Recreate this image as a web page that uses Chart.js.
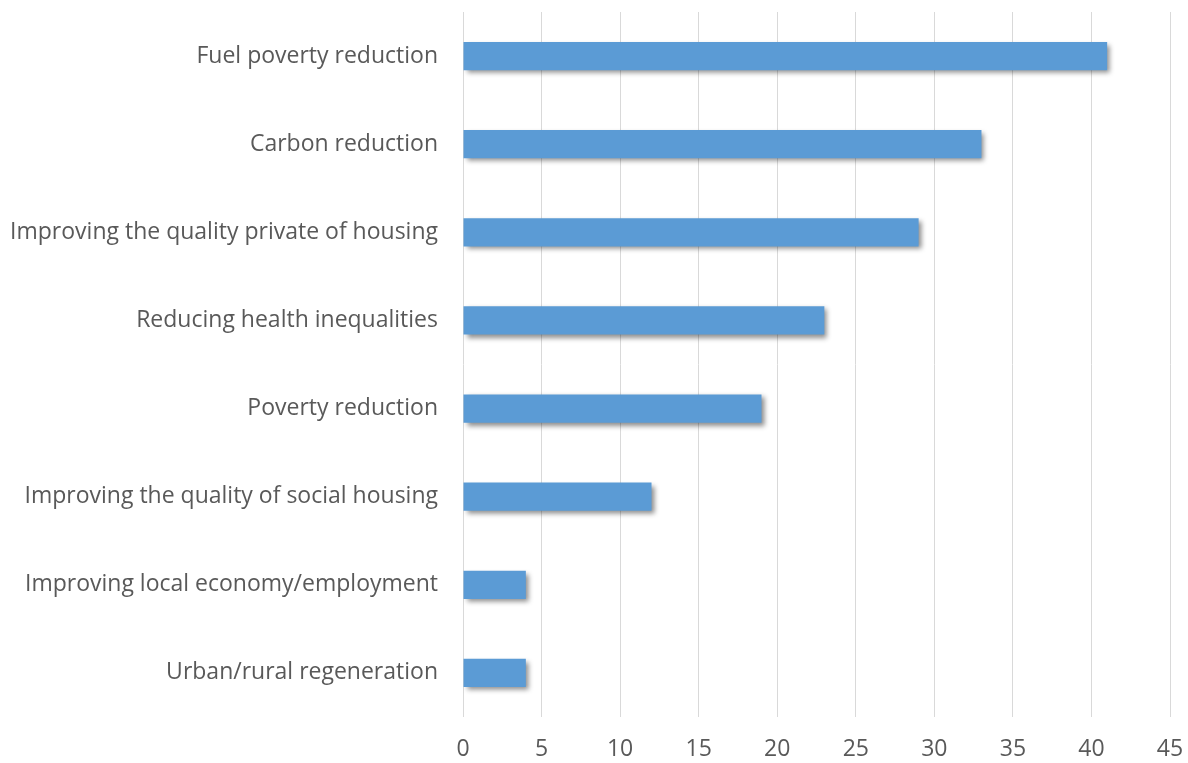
<!DOCTYPE html>
<html>
<head>
<meta charset="utf-8">
<script src="https://cdn.jsdelivr.net/npm/chart.js@4"></script>
<style>
  html, body { margin: 0; padding: 0; background: #fff; }
  #wrap { width: 1188px; height: 763px; }
</style>
</head>
<body>
<div id="wrap"><canvas id="benefitsChart" width="1188" height="763"></canvas></div>
<script>
const categories = [
  'Fuel poverty reduction',
  'Carbon reduction',
  'Improving the quality private of housing',
  'Reducing health inequalities',
  'Poverty reduction',
  'Improving the quality of social housing',
  'Improving local economy/employment',
  'Urban/rural regeneration'
];
const responses = [41, 33, 29, 23, 19, 12, 4, 4];
const xTicks = [0, 5, 10, 15, 20, 25, 30, 35, 40, 45];

// soft drop shadow under the bars, like the office chart
const barShadow = {
  id: 'barShadow',
  beforeDatasetsDraw(chart) {
    const c = chart.ctx;
    c.save();
    c.shadowColor = 'rgba(0,0,0,0.45)';
    c.shadowBlur = 5;
    c.shadowOffsetX = 3;
    c.shadowOffsetY = 3;
  },
  afterDatasetsDraw(chart) {
    chart.ctx.restore();
  }
};

const ctx = document.getElementById('benefitsChart').getContext('2d');

const benefitsChart = new Chart(ctx, {
  type: 'bar',
  data: {
    labels: categories,
    datasets: [{
      data: responses,
      backgroundColor: '#5b9bd5',
      borderWidth: 0,
      barPercentage: 0.64,
      categoryPercentage: 0.5
    }]
  },
  options: {
    indexAxis: 'y',
    responsive: false,
    animation: false,
    layout: { padding: { top: 12, right: 18, left: 0, bottom: 0 } },
    plugins: {
      legend: { display: false },
      tooltip: { enabled: false }
    },
    scales: {
      x: {
        min: 0,
        max: 45,
        afterBuildTicks(scale) {
          scale.ticks = xTicks.map(v => ({ value: v }));
        },
        afterFit(scale) {
          scale.height = 46;
          scale.paddingLeft = 0;
          scale.paddingRight = 0;
        },
        border: { display: false },
        grid: { color: '#d9d9d9', lineWidth: 1, drawTicks: false },
        ticks: {
          padding: 19,
          color: '#595959',
          font: { family: 'Open Sans', size: 23 }
        }
      },
      y: {
        afterFit(scale) {
          scale.width = 463;
          scale.paddingTop = 0;
          scale.paddingBottom = 0;
        },
        border: { display: false },
        grid: { display: false, drawTicks: false },
        ticks: {
          padding: 25,
          color: '#595959',
          font: { family: 'Open Sans', size: 23 }
        }
      }
    }
  },
  plugins: [barShadow]
});
</script>
</body>
</html>
